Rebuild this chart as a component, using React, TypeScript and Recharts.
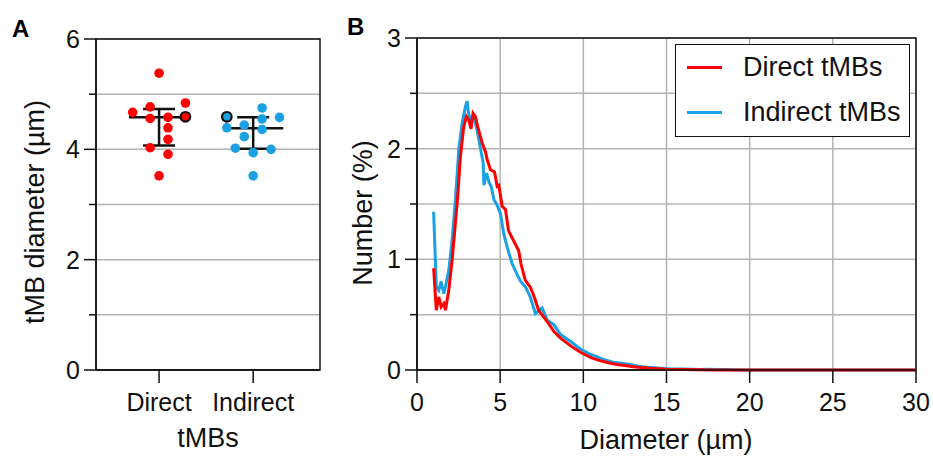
import React from "react";
import {
  ScatterChart,
  Scatter,
  LineChart,
  Line,
  XAxis,
  YAxis,
  CartesianGrid,
  ReferenceLine,
  ReferenceArea,
  Legend,
} from "recharts";

const RED = "#ff0000";
const BLUE = "#1ba1e2";
const INK = "#111111";
const GRID = "#b4b4b4";
const FONT = '"Liberation Sans", Arial, Helvetica, sans-serif';
const TICK_FS = 25;
const LABEL_FS = 27;

// ---- Panel A: tMB diameters per group (x = group position + jitter)
const groups = ["Direct", "Indirect"];

const directDiam = [5.38, 4.84, 4.67, 4.77, 4.56, 4.58, 4.39, 4.18, 4.03, 3.91, 3.52];
const directJitter = [0, 0.28, -0.28, -0.095, -0.095, 0.095, 0.095, 0.095, -0.095, 0.095, 0];
const directMarkedDiam = [4.59];
const directMarkedJitter = [0.28];

const indirectDiam = [4.75, 4.58, 4.55, 4.39, 4.44, 4.36, 4.23, 4.02, 3.94, 4.0, 3.52];
const indirectJitter = [0.095, 0.28, 0.095, -0.28, -0.095, 0.095, -0.095, -0.19, 0, 0.19, 0];
const indirectMarkedDiam = [4.59];
const indirectMarkedJitter = [-0.28];

// median and interquartile range per group
const medians = [4.58, 4.38];
const q1 = [4.07, 4.01];
const q3 = [4.73, 4.58];

const aTicksY = [0, 1, 2, 3, 4, 5, 6];

// ---- Panel B: number distribution vs diameter
const directD = [1.0, 1.16, 1.31, 1.45, 1.61, 1.71, 1.91, 2.11, 2.31, 2.45, 2.61, 2.81, 2.97, 3.11, 3.25, 3.37, 3.51, 3.65, 3.92, 4.12, 4.22, 4.42, 4.66, 4.82, 4.92, 5.12, 5.32, 5.5, 5.8, 6.11, 6.25, 6.51, 6.81, 7.05, 7.31, 7.61, 7.91, 8.22, 8.61, 9.22, 9.82, 10.5, 11, 11.5, 12, 12.5, 13, 13.5, 14, 14.5, 15, 16, 17, 18, 19, 20, 22, 24, 26, 28, 30];
const directNum = [0.92, 0.54, 0.66, 0.57, 0.6, 0.54, 0.72, 0.99, 1.33, 1.57, 1.93, 2.2, 2.29, 2.26, 2.18, 2.32, 2.29, 2.2, 2.05, 1.97, 1.9, 1.81, 1.79, 1.66, 1.67, 1.48, 1.45, 1.26, 1.17, 1.08, 0.96, 0.81, 0.75, 0.66, 0.54, 0.48, 0.42, 0.35, 0.29, 0.22, 0.16, 0.11, 0.085, 0.065, 0.05, 0.04, 0.03, 0.022, 0.016, 0.011, 0.007, 0.004, 0.002, 0.001, 0.001, 0, 0, 0, 0, 0, 0];

const indirectD = [1.0, 1.16, 1.31, 1.45, 1.61, 1.71, 1.91, 2.11, 2.31, 2.51, 2.71, 2.91, 3.01, 3.11, 3.25, 3.41, 3.61, 3.82, 3.98, 4.02, 4.18, 4.32, 4.46, 4.62, 4.82, 5.02, 5.22, 5.42, 5.72, 6.03, 6.23, 6.53, 6.81, 7.12, 7.52, 7.83, 8.23, 8.63, 9.22, 9.82, 10.3, 10.8, 11.3, 11.8, 12.3, 12.8, 13.3, 13.8, 14.3, 14.8, 15.3, 16, 16.5, 17, 17.5, 18, 18.5, 19, 20, 22, 24, 26, 28, 30];
const indirectNum = [1.43, 0.75, 0.72, 0.8, 0.69, 0.75, 0.9, 1.17, 1.54, 1.99, 2.23, 2.38, 2.43, 2.31, 2.26, 2.29, 2.17, 2.0, 1.87, 1.67, 1.78, 1.7, 1.66, 1.54, 1.49, 1.41, 1.23, 1.11, 0.96, 0.86, 0.8, 0.75, 0.66, 0.51, 0.56, 0.45, 0.41, 0.32, 0.26, 0.19, 0.15, 0.12, 0.09, 0.07, 0.06, 0.05, 0.035, 0.025, 0.02, 0.013, 0.01, 0.008, 0.006, 0.005, 0.006, 0.004, 0.005, 0.003, 0.001, 0, 0, 0, 0, 0];

const seriesNames = ["Direct tMBs", "Indirect tMBs"];
const seriesColors = [RED, BLUE];

const bTicksX = [0, 5, 10, 15, 20, 25, 30];
const bTicksY = [0, 0.5, 1, 1.5, 2, 2.5, 3];

const toPoints = (center: number, diam: number[], jitter: number[]) =>
  diam.map((y, i) => ({ x: center + jitter[i], y }));

const toCurve = (d: number[], v: number[]) => d.map((x, i) => ({ d: x, v: v[i] }));

const dot = (fill: string, stroke?: string) => (props: any) => (
  <circle
    cx={props.cx}
    cy={props.cy}
    r={4.8}
    fill={fill}
    stroke={stroke || "none"}
    strokeWidth={stroke ? 2.2 : 0}
  />
);

// y tick: long tick + label on integers, short tick otherwise
const makeYTick = (isMajor: (v: number) => boolean) => (props: any) => {
  const { x, y, payload } = props;
  const major = isMajor(payload.value);
  const len = major ? 12 : 7;
  return (
    <g>
      <line x1={x - len} x2={x} y1={y} y2={y} stroke={INK} strokeWidth={1.5} />
      {major && (
        <text x={x - len - 4} y={y + 9} textAnchor="end" fontSize={TICK_FS} fill={INK}>
          {payload.value}
        </text>
      )}
    </g>
  );
};

const makeXTick = (format: (v: number) => string) => (props: any) => {
  const { x, y, payload } = props;
  return (
    <g>
      <line x1={x} x2={x} y1={y} y2={y + 13} stroke={INK} strokeWidth={1.5} />
      <text x={x} y={y + 41} textAnchor="middle" fontSize={TICK_FS} fill={INK}>
        {format(payload.value)}
      </text>
    </g>
  );
};

const rotatedLabel = (text: string, x: number, y: number) => () => (
  <text
    x={x}
    y={y}
    transform={`rotate(-90, ${x}, ${y})`}
    textAnchor="middle"
    fontSize={LABEL_FS}
    fill={INK}
  >
    {text}
  </text>
);

const bottomLabel = (text: string, x: number, y: number) => () => (
  <text x={x} y={y} textAnchor="middle" fontSize={LABEL_FS} fill={INK}>
    {text}
  </text>
);

const LegendBox = () => (
  <div
    style={{
      position: "relative",
      width: 235,
      height: 93,
      boxSizing: "border-box",
      border: `1.5px solid ${INK}`,
      background: "#fff",
      fontFamily: FONT,
      fontSize: 27,
      color: INK,
    }}
  >
    {seriesNames.map((name, i) => (
      <div
        key={name}
        style={{
          position: "absolute",
          left: 0,
          top: i === 0 ? 4 : 49,
          height: 36,
          display: "flex",
          alignItems: "center",
          whiteSpace: "nowrap",
        }}
      >
        <div style={{ marginLeft: 11, width: 35, height: 3, background: seriesColors[i] }} />
        <span style={{ marginLeft: 21 }}>{name}</span>
      </div>
    ))}
  </div>
);

export default function App() {
  const A_DOMAIN: [number, number] = [0.33, 2.71];

  const errorSegments = groups.flatMap((_, i) => {
    const c = i + 1;
    return [
      [{ x: c - 0.32, y: medians[i] }, { x: c + 0.32, y: medians[i] }],
      [{ x: c - 0.17, y: q3[i] }, { x: c + 0.17, y: q3[i] }],
      [{ x: c - 0.17, y: q1[i] }, { x: c + 0.17, y: q1[i] }],
      [{ x: c, y: q1[i] }, { x: c, y: q3[i] }],
    ];
  });

  return (
    <div style={{ position: "relative", width: 933, height: 457, background: "#fff", fontFamily: FONT }}>
      <style>{"body{margin:0}"}</style>

      <div style={{ position: "absolute", left: 12, top: 17, fontSize: 24, fontWeight: 700, lineHeight: 1 }}>A</div>
      <div style={{ position: "absolute", left: 347, top: 15, fontSize: 24, fontWeight: 700, lineHeight: 1 }}>B</div>

      <div style={{ position: "absolute", left: 0, top: 0 }}>
        <ScatterChart width={330} height={457} margin={{ top: 39, right: 10, left: 0, bottom: 0 }}>
          <CartesianGrid vertical={false} stroke={GRID} strokeWidth={1.5} />
          <XAxis
            type="number"
            dataKey="x"
            domain={A_DOMAIN}
            ticks={[1, 2]}
            allowDataOverflow
            height={87}
            tickSize={0}
            tickMargin={0}
            tickLine={false}
            axisLine={{ stroke: INK, strokeWidth: 1.5 }}
            tick={makeXTick((v) => groups[v - 1])}
            label={{ content: bottomLabel("tMBs", 208, 447) }}
          />
          <YAxis
            type="number"
            dataKey="y"
            domain={[0, 6]}
            ticks={aTicksY}
            width={96}
            tickSize={0}
            tickMargin={0}
            tickLine={false}
            axisLine={{ stroke: INK, strokeWidth: 1.5 }}
            tick={makeYTick((v) => v % 2 === 0)}
            label={{ content: rotatedLabel("tMB diameter (µm)", 44, 212) }}
          />
          <ReferenceArea x1={A_DOMAIN[0]} x2={A_DOMAIN[1]} y1={0} y2={6} fill="none" stroke={INK} strokeWidth={1.5} />
          <Scatter data={toPoints(1, directDiam, directJitter)} shape={dot(RED)} isAnimationActive={false} />
          <Scatter data={toPoints(2, indirectDiam, indirectJitter)} shape={dot(BLUE)} isAnimationActive={false} />
          {errorSegments.map((seg, i) => (
            <ReferenceLine key={i} segment={seg} stroke={INK} strokeWidth={2.5} />
          ))}
          <Scatter data={toPoints(1, directMarkedDiam, directMarkedJitter)} shape={dot(RED, INK)} isAnimationActive={false} />
          <Scatter data={toPoints(2, indirectMarkedDiam, indirectMarkedJitter)} shape={dot(BLUE, INK)} isAnimationActive={false} />
        </ScatterChart>
      </div>

      <div style={{ position: "absolute", left: 330, top: 0 }}>
        <LineChart width={603} height={457} margin={{ top: 38, right: 17, left: 0, bottom: 0 }}>
          <CartesianGrid stroke={GRID} strokeWidth={1.5} />
          <XAxis
            type="number"
            dataKey="d"
            domain={[0, 30]}
            ticks={bTicksX}
            allowDataOverflow
            height={87}
            tickSize={0}
            tickMargin={0}
            tickLine={false}
            axisLine={{ stroke: INK, strokeWidth: 1.5 }}
            tick={makeXTick((v) => String(v))}
            label={{ content: bottomLabel("Diameter (µm)", 336, 449) }}
          />
          <YAxis
            type="number"
            domain={[0, 3]}
            ticks={bTicksY}
            width={87}
            tickSize={0}
            tickMargin={0}
            tickLine={false}
            axisLine={{ stroke: INK, strokeWidth: 1.5 }}
            tick={makeYTick((v) => Number.isInteger(v))}
            label={{ content: rotatedLabel("Number (%)", 42, 213) }}
          />
          <ReferenceArea x1={0} x2={30} y1={0} y2={3} fill="none" stroke={INK} strokeWidth={1.5} />
          <Line
            data={toCurve(indirectD, indirectNum)}
            dataKey="v"
            name={seriesNames[1]}
            stroke={BLUE}
            strokeWidth={3}
            dot={false}
            type="linear"
            isAnimationActive={false}
          />
          <Line
            data={toCurve(directD, directNum)}
            dataKey="v"
            name={seriesNames[0]}
            stroke={RED}
            strokeWidth={3}
            dot={false}
            type="linear"
            isAnimationActive={false}
          />
          <Legend
            layout="horizontal"
            verticalAlign="middle"
            align="center"
            content={LegendBox}
            wrapperStyle={{ left: 345, top: 44, width: 235, height: 93 }}
          />
        </LineChart>
      </div>
    </div>
  );
}
